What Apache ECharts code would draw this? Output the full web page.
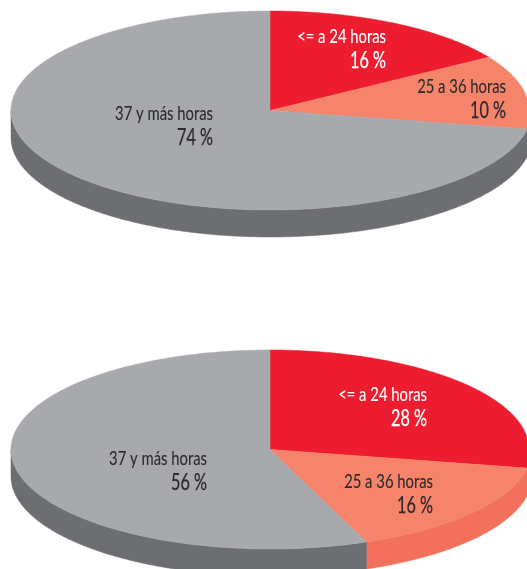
<!DOCTYPE html>
<html><head><meta charset="utf-8">
<style>html,body{margin:0;padding:0;background:#fff}#c{width:527px;height:569px}</style>
<script src="https://cdn.jsdelivr.net/npm/echarts@6/dist/echarts.min.js"></script>
</head><body><div id="c"></div>
<script>
const categories = ['<= a 24 horas', '25 a 36 horas', '37 y más horas'];
// Printed percentages
const upperLabels = [16, 10, 74];
const lowerLabels = [28, 16, 56];
// Wedge sizes as drawn in the picture
const upperShares = [16, 12, 72];
const lowerShares = [28, 16, 56];

const topColors = ['#ed1c2e', '#f5846a', '#a7a9ac'];
const rimColors = ['#ed1c2e', '#f3705c', '#6d6e71'];
const textColors = ['#ffffff', '#2a2a2c', '#2a2a2c'];
const shape = {cx: 270, rx: 259, rxLowerRight: 262, ry: 99.5, depth: 27};
const upperCy = 110.5, lowerCy = 449.5;
const upperLabelAnchors = [[386, 37], [506, 86.5], [213, 113.5]];
const lowerLabelAnchors = [[427, 395], [433, 481.5], [207, 458.5]];
const FONT = 'Lato';

function pt(cy, a, dy) {
  const s = Math.sin(a), c = Math.cos(a);
  return [shape.cx + (s >= 0 && c < 0 ? shape.rxLowerRight : shape.rx) * s, cy - shape.ry * c + (dy || 0)];
}
function arc(cy, a0, a1, dy) {
  const out = [], n = Math.max(2, Math.ceil(Math.abs(a1 - a0) / 0.01));
  for (let i = 0; i <= n; i++) out.push(pt(cy, a0 + (a1 - a0) * i / n, dy));
  return out;
}
function pieSeries(shares, cy) {
  const total = shares.reduce((s, v) => s + v, 0);
  const start = i => shares.slice(0, i).reduce((s, v) => s + v, 0) / total * 2 * Math.PI;
  const poly = (points, fill) => ({type: 'polygon', shape: {points}, style: {fill, stroke: fill, lineWidth: 0.5}});
  return [
    {type: 'custom', coordinateSystem: 'none', silent: true, z: 2, data: shares,
      renderItem(p, api) {
        const i = p.dataIndex;
        const a0 = start(i), a1 = a0 + api.value(0) / total * 2 * Math.PI;
        const lo = Math.max(a0, Math.PI / 2), hi = Math.min(a1, 1.5 * Math.PI);
        if (hi <= lo) return {type: 'group', children: []};
        const pts = arc(cy, lo, hi, 0).concat(arc(cy, hi, lo, shape.depth));
        return poly(pts, rimColors[i]);
      }},
    {type: 'custom', coordinateSystem: 'none', silent: true, z: 3, data: shares,
      renderItem(p, api) {
        const i = p.dataIndex;
        const a0 = start(i), a1 = a0 + api.value(0) / total * 2 * Math.PI;
        return poly([[shape.cx, cy]].concat(arc(cy, a0, a1, 0)), topColors[i]);
      }}
  ];
}
function labelSeries(values, anchors) {
  return {type: 'custom', coordinateSystem: 'none', silent: true, z: 5, data: values,
    renderItem(p, api) {
      const i = p.dataIndex, [x, y] = anchors[i], fill = textColors[i];
      const t = (text, yy, size, sx, lw) => ({type: 'text', x, y: yy, scaleX: sx,
        style: {text, fontFamily: FONT, fontSize: size, fill, stroke: fill, lineWidth: lw, align: 'right', verticalAlign: 'middle'}});
      return {type: 'group', children: [
        t(categories[i], y, 19, 0.78, 0.1),
        t(api.value(0) + ' %', y + 24, 22.5, 0.72, 0.25)
      ]};
    }};
}
const chart = echarts.init(document.getElementById('c'), null, {renderer: 'canvas'});
chart.setOption({
  animation: false,
  backgroundColor: '#ffffff',
  series: [
    ...pieSeries(upperShares, upperCy),
    ...pieSeries(lowerShares, lowerCy),
    labelSeries(upperLabels, upperLabelAnchors),
    labelSeries(lowerLabels, lowerLabelAnchors)
  ]
});
</script></body></html>
